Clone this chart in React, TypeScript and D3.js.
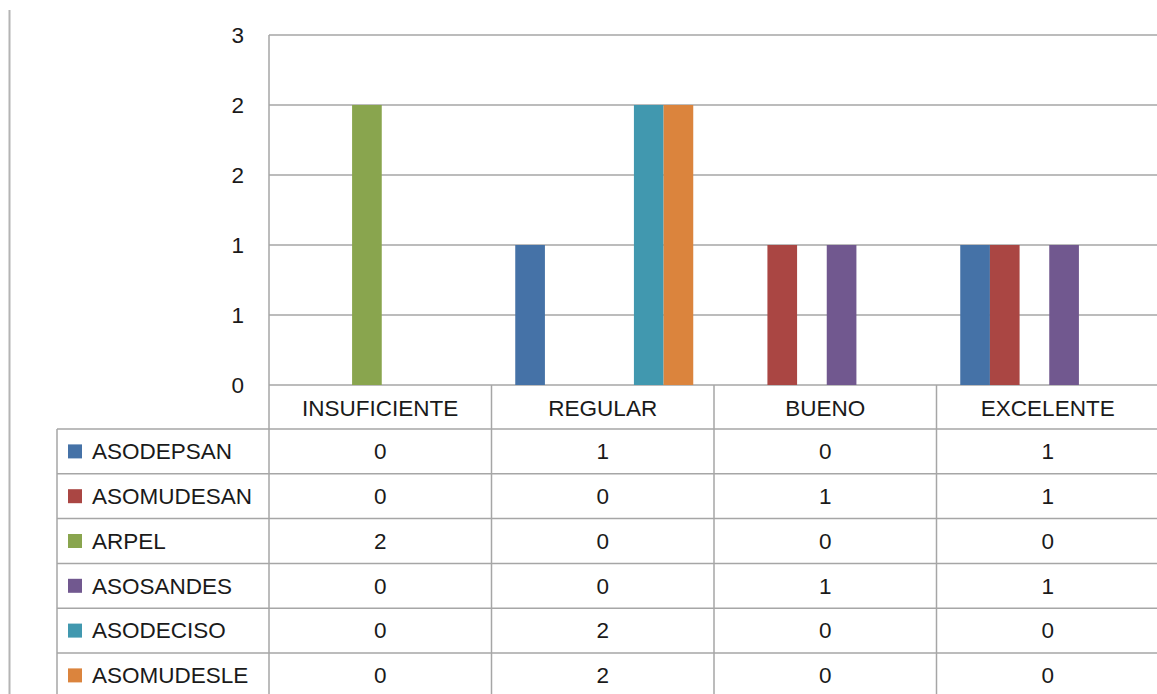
import React from 'react'
import * as d3 from 'd3'

// Data
const categories = ['INSUFICIENTE', 'REGULAR', 'BUENO', 'EXCELENTE']
const series = ['ASODEPSAN', 'ASOMUDESAN', 'ARPEL', 'ASOSANDES', 'ASODECISO', 'ASOMUDESLE']
const colors = ['#4572A7', '#AA4643', '#89A54E', '#71588F', '#4198AF', '#DB843D']
const asodepsan = [0, 1, 0, 1]
const asomudesan = [0, 0, 1, 1]
const arpel = [2, 0, 0, 0]
const asosandes = [0, 0, 1, 1]
const asodeciso = [0, 2, 0, 0]
const asomudesle = [0, 2, 0, 0]
const values = [asodepsan, asomudesan, arpel, asosandes, asodeciso, asomudesle]
const yTicks = [0, 0.5, 1, 1.5, 2, 2.5]
const yTickLabels = ['0', '1', '1', '2', '2', '3']

const width = 1157
const height = 694
const font = '"Liberation Sans", Arial, sans-serif'
const gridColor = '#a6a6a6'
const textColor = '#1a1a1a'

export default function App() {
    // Scales
    const xScale = d3.scaleBand().domain(categories).range([269, 1159])
    const inner = d3.scaleBand().domain(series).range([1.5, xScale.bandwidth() + 1.5])
        .paddingInner(0).paddingOuter(0.75)
    const yScale = d3.scaleLinear().domain([0, 2.5]).range([385, 35])
    const rowScale = d3.scaleBand().domain(series).range([429, 429 + 6 * 44.8])

    const tableTop = yScale(0)
    const headerBottom = rowScale(series[0])

    return (
        <svg width={width} height={height}
            style={{ position: 'absolute', left: 0, top: 0, background: '#fff' }}
            fontFamily={font}>
            {/* stray left frame line */}
            <line x1={9.5} x2={9.5} y1={10} y2={height} stroke="#b4b4b4" strokeWidth={2} />

            {/* gridlines */}
            {yTicks.map((t, i) => (
                <line key={'g' + i} x1={269} x2={width} y1={yScale(t)} y2={yScale(t)}
                    stroke={gridColor} strokeWidth={1.5} />
            ))}

            {/* y labels */}
            {yTicks.map((t, i) => (
                <text key={'yl' + i} x={244} y={yScale(t)} dy="0.35em" textAnchor="end"
                    fontSize={22.5} fill={textColor}>{yTickLabels[i]}</text>
            ))}

            {/* bars */}
            {series.map((s, si) => categories.map((c, ci) => {
                const v = values[si][ci]
                if (!v) return null
                return (
                    <rect key={s + c} x={(xScale(c) as number) + (inner(s) as number)} y={yScale(v)}
                        width={inner.bandwidth()} height={yScale(0) - yScale(v)} fill={colors[si]} />
                )
            }))}

            {/* table horizontal lines */}
            <line x1={57} x2={width} y1={headerBottom} y2={headerBottom} stroke={gridColor} strokeWidth={1.5} />
            {series.map((s, i) => (
                <line key={'h' + i} x1={57} x2={width} y1={(rowScale(s) as number) + rowScale.bandwidth()}
                    y2={(rowScale(s) as number) + rowScale.bandwidth()} stroke={gridColor} strokeWidth={1.5} />
            ))}

            {/* table vertical lines */}
            <line x1={57} x2={57} y1={headerBottom} y2={height} stroke={gridColor} strokeWidth={1.5} />
            <line x1={269} x2={269} y1={yScale(2.5)} y2={height} stroke={gridColor} strokeWidth={1.5} />
            {categories.slice(1).map(c => (
                <line key={'v' + c} x1={xScale(c)} x2={xScale(c)} y1={tableTop} y2={height}
                    stroke={gridColor} strokeWidth={1.5} />
            ))}

            {/* category headers */}
            {categories.map(c => (
                <text key={'c' + c} x={(xScale(c) as number) + xScale.bandwidth() / 2}
                    y={(tableTop + (headerBottom as number)) / 2 + 1} dy="0.35em" textAnchor="middle"
                    fontSize={22.5} fill={textColor}>{c}</text>
            ))}

            {/* legend rows + values */}
            {series.map((s, si) => {
                const cy = (rowScale(s) as number) + rowScale.bandwidth() / 2
                return (
                    <g key={'r' + s}>
                        <rect x={68} y={cy - 7} width={14} height={14} fill={colors[si]} />
                        <text x={92} y={cy} dy="0.35em" fontSize={22.5} fill={textColor}>{s}</text>
                        {categories.map((c, ci) => (
                            <text key={c} x={(xScale(c) as number) + xScale.bandwidth() / 2} y={cy}
                                dy="0.35em" textAnchor="middle" fontSize={22.5} fill={textColor}>
                                {values[si][ci]}
                            </text>
                        ))}
                    </g>
                )
            })}
        </svg>
    )
}
